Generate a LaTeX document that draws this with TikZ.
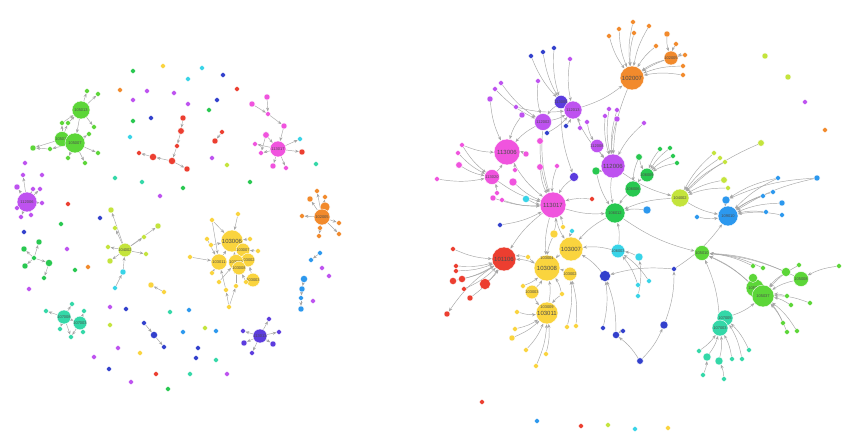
\documentclass[tikz,border=0pt]{standalone}
\usepackage{fontspec}
\setmainfont{Liberation Sans}
\usepackage{tikz}
\usetikzlibrary{arrows.meta, backgrounds}
\definecolor{nodeorange}{RGB}{242, 138, 44}
\definecolor{nodepink}{RGB}{240, 84, 222}
\definecolor{nodepurple}{RGB}{190, 82, 240}
\definecolor{nodeindigo}{RGB}{92, 60, 222}
\definecolor{nodeblue}{RGB}{44, 152, 238}
\definecolor{nodenavy}{RGB}{50, 64, 204}
\definecolor{nodegreen}{RGB}{92, 214, 56}
\definecolor{nodedkgreen}{RGB}{40, 200, 80}
\definecolor{nodelime}{RGB}{196, 228, 60}
\definecolor{nodeyellow}{RGB}{250, 212, 62}
\definecolor{nodered}{RGB}{236, 62, 48}
\definecolor{nodeteal}{RGB}{52, 216, 168}
\definecolor{nodecyan}{RGB}{56, 212, 232}
\tikzset{
  hub/.style={circle, fill=#1, draw=white, line width=0.4pt, inner sep=0pt,
    text=black!70, font=\fontsize{6}{6}\selectfont},
  tinylab/.style={font=\fontsize{4}{4}\selectfont},
  dot/.style={circle, fill=#1, draw=white, line width=0.3pt, inner sep=0pt, minimum size=4.8pt},
  link/.style={draw=black!35, line width=0.45pt, -{Stealth[length=3.8pt,width=3pt]}},
  rlink/.style={link, bend right=10},
}

\begin{document}
\begin{tikzpicture}[x=1pt, y=-1pt]

\useasboundingbox (0,0) rectangle (855,441);

%% ---------------- left graph ----------------
% green cluster
\node[hub=nodegreen, minimum size=18pt, tinylab] (L105013) at (81,110) {105013};
\node[hub=nodegreen, minimum size=15pt, tinylab] (L105016) at (62,139) {105016};
\node[hub=nodegreen, minimum size=20pt, tinylab] (L105007) at (75,143) {105007};
\node[dot=nodegreen] (La1) at (87,91) {};
\node[dot=nodegreen] (La2) at (98,94) {};
\node[dot=nodegreen] (La3) at (62,123) {};
\node[dot=nodegreen] (La4) at (68,123) {};
\node[dot=nodegreen] (La5) at (94,127) {};
\node[dot=nodegreen] (La6) at (89,134) {};
\node[dot=nodegreen, minimum size=6pt] (La7) at (33,148) {};
\node[dot=nodegreen] (La8) at (50,149) {};
\node[dot=nodegreen] (La9) at (68,158) {};
\node[dot=nodegreen] (La10) at (85,163) {};
\node[dot=nodegreen] (La11) at (98,153) {};

% purple star
\node[hub=nodepurple, minimum size=20pt, tinylab] (L112006) at (27,202) {112006};
\node[dot=nodepurple, minimum size=6pt] (Lb1) at (17,187) {};
\node[dot=nodepurple] (Lb2) at (23,175) {};
\node[dot=nodepurple] (Lb3) at (42,175) {};
\node[dot=nodepurple] (Lb4) at (33,189) {};
\node[dot=nodepurple] (Lb5) at (40,189) {};
\node[dot=nodepurple] (Lb6) at (42,203) {};
\node[dot=nodepurple] (Lb7) at (17,208) {};
\node[dot=nodepurple] (Lb8) at (21,217) {};
\node[dot=nodepurple] (Lb9) at (31,215) {};
\node[dot=nodepurple] (Lb10) at (25,163) {};

% dark green tree
\node[dot=nodedkgreen, minimum size=6pt] (Lc1) at (39,242) {};
\node[dot=nodedkgreen, minimum size=6pt] (Lc2) at (24,249) {};
\node[dot=nodedkgreen] (Lc3) at (34,258) {};
\node[dot=nodedkgreen, minimum size=7pt] (Lc4) at (49,263) {};
\node[dot=nodedkgreen, minimum size=6pt] (Lc5) at (25,266) {};
\node[dot=nodedkgreen] (Lc6) at (44,278) {};

% teal pair
\node[hub=nodeteal, minimum size=14pt, tinylab] (L107008) at (64,317) {107008};
\node[hub=nodeteal, minimum size=12pt, tinylab] (L107003) at (80,323) {107003};
\node[dot=nodeteal] (Ld1) at (46,311) {};
\node[dot=nodeteal] (Ld2) at (72,304) {};
\node[dot=nodeteal] (Ld3) at (84,311) {};
\node[dot=nodeteal] (Ld4) at (60,329) {};
\node[dot=nodeteal] (Ld5) at (71,337) {};
\node[dot=nodeteal] (Ld6) at (83,332) {};

% lime star
\node[hub=nodelime, minimum size=12pt, tinylab] (L104002) at (125,250) {104002};
\node[dot=nodelime, minimum size=6pt] (Le1) at (111,210) {};
\node[dot=nodelime, minimum size=6pt] (Le2) at (158,226) {};
\node[dot=nodelime] (Le3) at (115,228) {};
\node[dot=nodelime] (Le4) at (144,237) {};
\node[dot=nodelime] (Le5) at (108,247) {};
\node[dot=nodelime, minimum size=6pt] (Le6) at (110,261) {};
\node[dot=nodelime] (Le7) at (146,254) {};
\node[dot=nodecyan, minimum size=6pt] (Le8) at (123,272) {};
\node[dot=nodecyan] (Le9) at (115,288) {};

% red chain
\node[dot=nodered, minimum size=6pt] (Lf1) at (183,118) {};
\node[dot=nodered, minimum size=6.5pt] (Lf2) at (181,131) {};
\node[dot=nodered] (Lf3) at (177,146) {};
\node[dot=nodered, minimum size=7pt] (Lf4) at (153,157) {};
\node[dot=nodered, minimum size=7pt] (Lf5) at (172,161) {};
\node[dot=nodered, minimum size=6pt] (Lf6) at (187,169) {};
\node[dot=nodered] (Lf7) at (139,153) {};
\node[dot=nodered, minimum size=6pt] (Lf8) at (215,141) {};
\node[dot=nodered] (Lf9) at (222,132) {};

% pink star
\node[hub=nodepink, minimum size=16pt, tinylab] (L113017) at (278,149) {113017};
\node[dot=nodepink, minimum size=6pt] (Lg1) at (267,97) {};
\node[dot=nodepink, minimum size=6pt] (Lg2) at (252,104) {};
\node[dot=nodepink] (Lg3) at (268,114) {};
\node[dot=nodepink, minimum size=6pt] (Lg4) at (284,126) {};
\node[dot=nodepink, minimum size=6.5pt] (Lg5) at (266,135) {};
\node[dot=nodepink] (Lg6) at (255,144) {};
\node[dot=nodepink] (Lg7) at (261,153) {};
\node[dot=nodepink, minimum size=6pt] (Lg8) at (273,166) {};
\node[dot=nodepink] (Lg9) at (286,168) {};
\node[dot=nodecyan] (Lg10) at (300,139) {};
\node[dot=nodered, minimum size=6pt] (Lg11) at (302,152) {};

% orange star
\node[hub=nodeorange, minimum size=10pt] (Lh0) at (325,207) {};
\node[hub=nodeorange, minimum size=16pt, tinylab] (L102005) at (322,217) {102005};
\node[dot=nodeorange] (Lh1) at (317,191) {};
\node[dot=nodeorange, minimum size=6pt] (Lh2) at (310,199) {};
\node[dot=nodeorange] (Lh3) at (325,197) {};
\node[dot=nodeorange] (Lh4) at (302,216) {};
\node[dot=nodeorange] (Lh5) at (339,223) {};
\node[dot=nodeorange] (Lh6) at (320,228) {};
\node[dot=nodeorange] (Lh7) at (339,234) {};
\node[dot=nodeorange] (Lh8) at (319,236) {};

% yellow cluster
\node[hub=nodeyellow, minimum size=22pt] (L103006) at (232,241) {103006};
\node[hub=nodeyellow, minimum size=10pt, tinylab] (Ly4) at (243,250) {103007};
\node[hub=nodeyellow, minimum size=10pt, tinylab] (Ly5) at (248,260) {103002};
\node[hub=nodeyellow, minimum size=16pt, tinylab] (L103011) at (219,262) {103011};
\node[hub=nodeyellow, minimum size=15pt, tinylab] (L103009) at (236,262) {103009};
\node[hub=nodeyellow, minimum size=8pt, tinylab] (Ly6) at (239,268) {103008};
\node[hub=nodeyellow, minimum size=8pt, tinylab] (Ly7) at (253,280) {103003};
\node[dot=nodeyellow] (Li1) at (238,214) {};
\node[dot=nodeyellow] (Li2) at (212,220) {};
\node[dot=nodeyellow] (Li3) at (207,239) {};
\node[dot=nodeyellow] (Li4) at (211,245) {};
\node[dot=nodeyellow] (Li5) at (250,239) {};
\node[dot=nodeyellow] (Li6) at (258,251) {};
\node[dot=nodeyellow] (Li7) at (190,257) {};
\node[dot=nodeyellow] (Li8) at (212,273) {};
\node[dot=nodeyellow] (Li9) at (219,282) {};
\node[dot=nodeyellow] (Li10) at (226,290) {};
\node[dot=nodeyellow] (Li11) at (236,286) {};
\node[dot=nodeyellow] (Li12) at (246,282) {};
\node[dot=nodeyellow] (Li13) at (229,307) {};
\node[dot=nodeyellow, minimum size=6pt] (Li14) at (151,285) {};
\node[dot=nodeyellow] (Li15) at (164,292) {};

% blue chain
\node[dot=nodeblue, minimum size=7pt] (Lj1) at (304,279) {};
\node[dot=nodeblue, minimum size=6pt] (Lj2) at (302,289) {};
\node[dot=nodeblue] (Lj3) at (301,298) {};
\node[dot=nodeblue, minimum size=6pt] (Lj4) at (301,309) {};
\node[dot=nodeblue] (Lj5) at (311,260) {};
\node[dot=nodeblue] (Lj6) at (320,253) {};

% indigo star
\node[hub=nodeindigo, minimum size=14pt, tinylab] (L113013) at (260,336) {113013};
\node[dot=nodeindigo] (Lk1) at (269,319) {};
\node[dot=nodeindigo] (Lk2) at (243,331) {};
\node[dot=nodeindigo, minimum size=6pt] (Lk3) at (244,343) {};
\node[dot=nodeindigo, minimum size=6pt] (Lk4) at (273,344) {};
\node[dot=nodeindigo] (Lk5) at (279,332) {};
\node[dot=nodeindigo] (Lk6) at (252,353) {};

\node[dot=nodenavy, minimum size=7pt] (Ll1) at (154,335) {};
\node[dot=nodenavy] (Ll2) at (144,323) {};
\node[dot=nodenavy] (Ll3) at (164,347) {};

% loose nodes
\foreach \x/\y/\c in {163/66/nodeyellow, 133/71/nodedkgreen, 202/68/nodecyan, 223/75/nodenavy,
  188/79/nodecyan, 237/89/nodered, 120/90/nodeorange, 147/91/nodepurple, 174/93/nodepurple,
  133/100/nodepurple, 188/104/nodepurple, 217/100/nodenavy, 209/110/nodedkgreen, 133/121/nodedkgreen,
  151/118/nodenavy, 130/137/nodecyan, 212/158/nodepurple, 227/165/nodelime, 115/178/nodeteal,
  142/182/nodeteal, 183/188/nodedkgreen, 160/196/nodepurple, 250/182/nodedkgreen, 316/164/nodeteal,
  68/204/nodered, 100/218/nodenavy, 61/224/nodedkgreen, 24/232/nodenavy, 67/249/nodepurple,
  75/270/nodedkgreen, 88/267/nodeorange, 29/289/nodepurple, 110/307/nodepurple, 126/309/nodenavy,
  110/325/nodelime, 170/312/nodeteal, 189/310/nodeblue, 183/332/nodeblue, 205/328/nodelime,
  198/348/nodenavy, 118/348/nodepurple, 140/353/nodeyellow, 216/331/nodeblue, 94/357/nodepurple,
  196/358/nodenavy, 216/360/nodeteal, 109/369/nodenavy, 156/374/nodered, 131/382/nodepurple,
  190/374/nodeteal, 227/374/nodepurple, 168/389/nodedkgreen, 322/268/nodepurple, 329/276/nodepurple,
  313/301/nodepurple}
  \node[dot=\c] (Ls\x-\y) at (\x,\y) {};

%% ---------------- right graph ----------------
% orange star
\node[hub=nodeorange, minimum size=24pt] (R102007) at (632,78) {102007};
\node[hub=nodeorange, minimum size=14pt, tinylab] (R102005) at (671,58) {102005};
\node[dot=nodeorange] (Ra1) at (609,36) {};
\node[dot=nodeorange] (Ra2) at (619,29) {};
\node[dot=nodeorange] (Ra3) at (633,22) {};
\node[dot=nodeorange] (Ra4) at (634,33) {};
\node[dot=nodeorange] (Ra5) at (649,26) {};
\node[dot=nodeorange, minimum size=6pt] (Ra6) at (667,34) {};
\node[dot=nodeorange] (Ra7) at (676,44) {};
\node[dot=nodeorange] (Ra8) at (656,46) {};
\node[dot=nodeorange] (Ra9) at (685,55) {};
\node[dot=nodeorange] (Ra10) at (683,66) {};
\node[dot=nodeorange] (Ra11) at (683,75) {};

% purple and pink core
\node[hub=nodeindigo, minimum size=13pt, tinylab] (R113005) at (561,102) {113005};
\node[hub=nodepurple, minimum size=18pt, tinylab] (R112013) at (573,110) {112013};
\node[hub=nodepurple, minimum size=17pt, tinylab] (R112002) at (543,122) {112002};
\node[hub=nodepink, minimum size=26pt] (R113006) at (507,152) {113006};
\node[hub=nodepurple, minimum size=13pt, tinylab] (R112008) at (597,146) {112008};
\node[hub=nodepurple, minimum size=24pt] (R112006) at (613,166) {112006};
\node[hub=nodepink, minimum size=15pt, tinylab] (R113020) at (492,177) {113020};
\node[hub=nodepink, minimum size=26pt] (R113017) at (553,205) {113017};
\node[dot=nodenavy] (Rb1) at (543,52) {};
\node[dot=nodenavy] (Rb2) at (531,56) {};
\node[dot=nodenavy] (Rb3) at (554,48) {};
\node[dot=nodepurple] (Rb4) at (570,59) {};
\node[dot=nodepink, minimum size=8pt] (Rc1) at (513,182) {};
\node[dot=nodeindigo, minimum size=9pt] (Rc2) at (574,177) {};
\node[dot=nodedkgreen, minimum size=8pt] (Rc3) at (596,171) {};
\node[dot=nodecyan, minimum size=7pt] (Rc4) at (526,199) {};
\node[dot=nodeblue, minimum size=8pt] (Rc5) at (647,210) {};
\node[dot=nodeblue, minimum size=8pt] (Rc6) at (726,200) {};
\node[dot=nodepurple] (Rg1) at (538,81) {};
\node[dot=nodepurple] (Rg2) at (501,83) {};
\node[dot=nodepurple] (Rg3) at (495,89) {};
\node[dot=nodepurple, minimum size=6pt] (Rg4) at (490,99) {};
\node[dot=nodepurple] (Rg5) at (516,107) {};
\node[dot=nodepurple, minimum size=6pt] (Rg6) at (522,115) {};
\node[dot=nodenavy] (Rg7) at (547,133) {};
\node[dot=nodenavy] (Rg8) at (566,126) {};
\node[dot=nodepurple] (Rg9) at (580,128) {};
\node[dot=nodepurple] (Rg10) at (587,122) {};
\node[dot=nodepurple] (Rg11) at (605,116) {};
\node[dot=nodepurple] (Rg12) at (609,109) {};
\node[dot=nodepurple] (Rg13) at (617,110) {};
\node[dot=nodepurple, minimum size=6pt] (Rg14) at (617,119) {};
\node[dot=nodepurple] (Rg15) at (644,123) {};
\node[dot=nodepink, minimum size=6.5pt] (Rg16) at (540,141) {};
\node[dot=nodepink, minimum size=6pt] (Rg17) at (526,154) {};
\node[dot=nodepink] (Rg18) at (462,145) {};
\node[dot=nodepink] (Rg19) at (458,153) {};
\node[dot=nodepink, minimum size=6.5pt] (Rg20) at (459,165) {};
\node[dot=nodepink] (Rg21) at (437,179) {};
\node[dot=nodepink, minimum size=6.5pt] (Rg22) at (540,167) {};
\node[dot=nodepink] (Rg23) at (557,166) {};
\node[dot=nodepink] (Rg24) at (515,170) {};
\node[dot=nodepink, minimum size=6pt] (Rg25) at (493,198) {};
\node[dot=nodepink] (Rg26) at (502,200) {};
\node[dot=nodepink] (Rg27) at (497,193) {};
\node[dot=nodered] (Rg28) at (592,199) {};

% green, lime and blue
\node[hub=nodedkgreen, minimum size=16pt, tinylab] (R106006) at (633,189) {106006};
\node[hub=nodedkgreen, minimum size=13pt, tinylab] (R106009) at (647,175) {106009};
\node[hub=nodedkgreen, minimum size=20pt, tinylab] (R106012) at (615,213) {106012};
\node[hub=nodelime, minimum size=18pt, tinylab] (R104002) at (680,198) {104002};
\node[hub=nodeblue, minimum size=20pt, tinylab] (R109010) at (728,216) {109010};
\node[dot=nodedkgreen, minimum size=6.5pt] (Rd1) at (639,157) {};
\node[dot=nodedkgreen] (Rd2) at (660,149) {};
\node[dot=nodedkgreen] (Rd3) at (670,148) {};
\node[dot=nodedkgreen] (Rd4) at (673,156) {};
\node[dot=nodedkgreen] (Rd5) at (677,163) {};
\node[dot=nodelime] (Re1) at (714,153) {};
\node[dot=nodelime] (Re2) at (720,158) {};
\node[dot=nodelime] (Re3) at (725,162) {};
\node[dot=nodelime, minimum size=6.5pt] (Re4) at (724,180) {};
\node[dot=nodelime] (Re5) at (728,188) {};
\node[dot=nodelime, minimum size=6.5pt] (Re6) at (761,143) {};
\node[dot=nodelime, minimum size=6pt] (Re7) at (765,56) {};
\node[dot=nodelime, minimum size=6pt] (Re8) at (788,77) {};
\node[dot=nodepurple] (Re9) at (805,102) {};
\node[dot=nodeorange] (Re10) at (825,130) {};
\node[dot=nodeblue] (Rf1) at (778,178) {};
\node[dot=nodeblue, minimum size=6pt] (Rf2) at (817,178) {};
\node[dot=nodeblue] (Rf3) at (763,196) {};
\node[dot=nodeblue] (Rf4) at (773,192) {};
\node[dot=nodeblue, minimum size=6pt] (Rf5) at (782,203) {};
\node[dot=nodeblue] (Rf6) at (766,212) {};
\node[dot=nodeblue] (Rf7) at (782,215) {};
\node[dot=nodeblue] (Rf8) at (697,217) {};

% red and yellow
\node[hub=nodered, minimum size=24pt] (R101106) at (504,259) {101106};
\node[hub=nodeyellow, minimum size=24pt] (R103007) at (571,249) {103007};
\node[hub=nodeyellow, minimum size=11pt, tinylab] (R103002) at (570,274) {103002};
\node[hub=nodeyellow, minimum size=26pt] (R103008) at (547,268) {103008};
\node[hub=nodeyellow, minimum size=22pt] (R103011) at (547,313) {103011};
\node[tinylab, text=black!70] (R103004) at (547,258) {103004};
\node[tinylab, text=black!70] (R103009) at (547,307) {103009};
\node[dot=nodered] (Rh1) at (453,249) {};
\node[dot=nodered] (Rh2) at (456,266) {};
\node[dot=nodered] (Rh3) at (456,271) {};
\node[dot=nodered, minimum size=7pt] (Rh4) at (453,281) {};
\node[dot=nodered, minimum size=7pt] (Rh5) at (462,279) {};
\node[dot=nodered, minimum size=11pt] (Rh6) at (485,284) {};
\node[dot=nodered] (Rh7) at (464,289) {};
\node[dot=nodered, minimum size=6pt] (Rh8) at (470,298) {};
\node[dot=nodered, minimum size=6pt] (Rh9) at (447,314) {};
\node[dot=nodeyellow, minimum size=8pt] (Ri1) at (554,234) {};
\node[hub=nodeyellow, minimum size=10pt, tinylab] (Ri2) at (532,292) {103003};
\node[dot=nodeyellow] (Ri3) at (523,286) {};
\node[dot=nodeyellow] (Ri4) at (562,294) {};
\node[dot=nodeyellow] (Ri5) at (517,312) {};
\node[dot=nodeyellow] (Ri6) at (515,329) {};
\node[dot=nodeyellow, minimum size=6pt] (Ri7) at (512,338) {};
\node[dot=nodeyellow] (Ri8) at (526,350) {};
\node[dot=nodeyellow] (Ri9) at (546,354) {};
\node[dot=nodeyellow] (Ri10) at (536,366) {};
\node[dot=nodeyellow] (Ri11) at (567,327) {};
\node[dot=nodeyellow] (Ri12) at (576,326) {};
\node[dot=nodeyellow] (Ri13) at (528,257) {};
\node[dot=nodeyellow] (Ri14) at (563,227) {};

% cyan and blue
\node[hub=nodecyan, minimum size=11pt, tinylab] (R106003) at (618,251) {106003};
\node[dot=nodecyan, minimum size=8pt] (Rj1) at (639,257) {};
\node[dot=nodecyan] (Rj2) at (572,231) {};
\node[dot=nodecyan] (Rj3) at (649,281) {};
\node[dot=nodecyan] (Rj4) at (638,285) {};
\node[dot=nodecyan] (Rj5) at (638,296) {};
\node[dot=nodenavy, minimum size=11pt] (Rk1) at (605,276) {};
\node[dot=nodenavy] (Rk2) at (603,328) {};
\node[dot=nodenavy, minimum size=7pt] (Rk3) at (616,335) {};
\node[dot=nodenavy] (Rk4) at (623,331) {};
\node[dot=nodenavy, minimum size=6.5pt] (Rk5) at (640,361) {};
\node[dot=nodenavy, minimum size=8pt] (Rk6) at (664,325) {};
\node[dot=nodenavy] (Rk7) at (674,269) {};
\node[dot=nodenavy] (Rk8) at (500,225) {};

% green and teal
\node[hub=nodegreen, minimum size=15pt, tinylab] (R105010) at (702,253) {105010};
\node[hub=nodegreen, minimum size=18pt, tinylab] (R105013) at (755,288) {105013};
\node[hub=nodegreen, minimum size=22pt, tinylab] (R105037) at (763,296) {105037};
\node[hub=nodegreen, minimum size=15pt, tinylab] (R105008) at (801,279) {105008};
\node[dot=nodegreen, minimum size=9pt] (Rl1) at (753,278) {};
\node[dot=nodegreen, minimum size=9pt] (Rl2) at (786,272) {};
\node[dot=nodegreen] (Rl3) at (753,266) {};
\node[dot=nodegreen] (Rl4) at (763,268) {};
\node[dot=nodegreen] (Rl5) at (799,265) {};
\node[dot=nodegreen] (Rl6) at (839,266) {};
\node[dot=nodegreen] (Rl7) at (787,296) {};
\node[dot=nodegreen] (Rl8) at (791,305) {};
\node[dot=nodegreen] (Rl9) at (810,303) {};
\node[dot=nodegreen] (Rl10) at (783,323) {};
\node[dot=nodegreen] (Rl11) at (787,332) {};
\node[dot=nodegreen] (Rl12) at (797,331) {};
\node[hub=nodeteal, minimum size=16pt, tinylab] (R107005) at (725,318) {107005};
\node[hub=nodeteal, minimum size=16pt, tinylab] (R107003) at (720,328) {107003};
\node[dot=nodeteal, minimum size=8pt] (Rm1) at (707,357) {};
\node[dot=nodeteal, minimum size=8pt] (Rm2) at (719,361) {};
\node[dot=nodeteal] (Rm3) at (699,351) {};
\node[dot=nodeteal] (Rm4) at (703,375) {};
\node[dot=nodeteal] (Rm5) at (724,379) {};
\node[dot=nodeteal] (Rm6) at (742,359) {};
\node[dot=nodeteal] (Rm7) at (749,350) {};
\node[dot=nodeteal] (Rm8) at (732,359) {};

% loose nodes at the bottom
\node[dot=nodered] (Rn1) at (482,402) {};
\node[dot=nodeblue] (Rn2) at (537,421) {};
\node[dot=nodered] (Rn3) at (581,426) {};
\node[dot=nodelime] (Rn4) at (608,425) {};
\node[dot=nodecyan] (Rn5) at (635,429) {};
\node[dot=nodeyellow] (Rn6) at (668,428) {};

%% ---------------- links ----------------
\begin{pgfonlayer}{background}
\fill[white] (0,0) rectangle (855,441);
\foreach \a/\b in {L105013/La1, L105013/La2, L105013/La5, La3/L105013, La4/L105013,
  L105007/La6, L105007/La9, L105007/La10, L105007/La11, L105007/La8, L105013/L105007,
  L105016/La7, L105016/La3, L105016/La4, L105016/L105007, La8/La7,
  L112006/Lb1, L112006/Lb2, L112006/Lb4, L112006/Lb5, L112006/Lb6, L112006/Lb7, L112006/Lb8, L112006/Lb9,
  Lc3/Lc1, Lc3/Lc2, Lc3/Lc4, Lc3/Lc5, Lc4/Lc6,
  L107008/Ld1, L107008/Ld2, L107008/Ld4, L107008/Ld5, L107003/Ld3, L107003/Ld6, L107003/Ld5, L107008/L107003,
  L104002/Le1, L104002/Le2, L104002/Le3, L104002/Le4, L104002/Le5, L104002/Le6, L104002/Le7, Le8/L104002, Le9/Le8,
  Lf1/Lf2, Lf2/Lf3, Lf3/Lf5, Lf5/Lf4, Lf4/Lf7, Lf5/Lf6, Lf9/Lf8,
  Lg1/Lg3, Lg2/Lg3, Lg3/Lg4, Lg4/L113017, Lg5/L113017, L113017/Lg6, L113017/Lg7, L113017/Lg8,
  L113017/Lg9, L113017/Lg10, L113017/Lg11, Lg5/Lg7,
  L102005/Lh1, L102005/Lh2, L102005/Lh3, L102005/Lh4, L102005/Lh5, L102005/Lh6, L102005/Lh7, L102005/Lh8,
  Li1/L103006, Li2/L103006, Li3/L103011, Li4/L103006, Li5/L103006, Li6/Ly4, Li7/L103011, Li8/L103011,
  Li9/L103009, Li10/L103011, Li11/L103009, Li12/Ly6, Li13/Li10, Li13/Li11, L103011/L103006,
  L103009/L103006, Li15/Li14, Ly7/Ly5, Li2/L103011, Li12/Ly7,
  Lj1/Lj2, Lj2/Lj3, Lj3/Lj4, Lj6/Lj5,
  L113013/Lk1, L113013/Lk2, L113013/Lk3, L113013/Lk4, L113013/Lk5, L113013/Lk6,
  Ll2/Ll1, Ll1/Ll3}
  \draw[link] (\a) to (\b);

\foreach \a/\b in {Ra1/R102007, Ra2/R102007, Ra3/R102007, Ra4/R102007, Ra5/R102007, Ra8/R102007,
  Ra6/R102005, Ra7/R102005, Ra9/R102005, Ra10/R102007, Ra11/R102007, R102005/R102007, Ra9/R102007,
  Rb1/R113005, Rb2/R113005, Rb3/R113005, Rb4/R112013, R112013/R102007, R102007/R112006,
  R113005/R112013, R113005/R112002,
  Rg1/R112002, Rg2/R112002, Rg3/R112002, Rg4/R113006, Rg5/R112013, Rg6/R113006, Rg7/R112013,
  Rg8/R112013, Rg9/R112013, Rg10/R112008, Rg11/R112006, Rg12/R112006, Rg13/R112006, Rg14/R112006,
  Rg15/R112006, Rg16/R113017, Rg17/R113006, Rg18/R113006, Rg19/R113020, Rg20/R113020, Rg21/R113020,
  Rg22/R113017, Rg23/R113017, Rg24/R113006, Rg25/R113017, Rg26/R113017, Rg27/R113020, Rg28/R113017,
  Rg18/R113020, R112002/R113006, R112002/R112013, R112013/R112006, R112008/R112006,
  R112002/R113017, R113006/R113017, R113020/R113006, R113020/R113017, Rc1/R113017, Rc2/R113017,
  R113005/Rc2, Rc3/R112006, Rc3/R106012,
  R106009/R106006, Rd1/R106009, Rd2/R106009, Rd3/R106009, Rd4/R106009, Rd5/R106009, Rd1/R106006,
  R106006/R106012, R112006/R106012, R113017/R106012, Rc4/R113017, Rc5/R106012, R104002/R106012,
  R112006/R104002, Re1/R104002, Re2/R104002, Re3/R104002, Re4/R104002, Re5/R104002, Re6/R104002,
  Rc6/R109010, Rf1/R109010, Rf2/R109010, Rf3/R109010, Rf4/R109010, Rf5/R109010, Rf6/R109010,
  Rf7/R109010, Rf8/R109010, R104002/R109010, Rf1/Rc6, Rf2/Rc6,
  R106012/R103007, R113017/R101106, R113017/R103007, R113017/R103008,
  Rh1/R101106, Rh2/R101106, Rh3/R101106, Rh4/R101106, Rh5/R101106, Rh6/R101106, Rh7/R101106,
  Rh8/R101106, R101106/Rh9, R103008/R101106, R103007/R103008, R103002/R103008,
  Ri1/R103008, Ri1/R113017, Ri14/R113017, Ri13/R101106, Ri13/R103008, Ri2/R103008, Ri3/R103008,
  Ri4/R103008, R103011/R103008, Ri5/R103011, Ri6/R103011, Ri7/R103011, Ri8/R103011, Ri9/R103011,
  Ri10/R103011, Ri11/R103002, Ri12/R103002, Ri2/R103011, Ri4/R103011,
  R106003/R106012, Rj1/R106003, Rj2/R103007, Rj3/R106003, Rj4/R106003, Rj5/Rj1, R106003/R103007,
  Rk1/R103007, Rk2/Rk1, Rk3/Rk1, Rk5/Rk3, Rk5/Rk6, Rk6/Rk7, Rk7/Rk1, Rk7/R109010, Rk8/R113017, Rk4/Rk3,
  R106012/R105010, R105037/R105010, R105013/R105010, R105008/R105037, Rl1/R105013, Rl2/R105037,
  Rl3/R105010, Rl4/R105010, Rl5/R105037, Rl6/R105008, Rl7/R105037, Rl8/R105037, Rl9/R105037,
  Rl10/R105037, Rl11/R105037, Rl12/R105037, R107005/R105037, R107003/R105010, Rl2/R105010,
  R105008/R105010, Rm1/R107003, Rm2/R107003, Rm3/R107003, Rm4/Rm1, Rm5/Rm2, Rm6/R107005,
  Rm7/R107005, Rm8/R107003}
  \draw[rlink] (\a) to (\b);
\end{pgfonlayer}

\end{tikzpicture}
\end{document}
